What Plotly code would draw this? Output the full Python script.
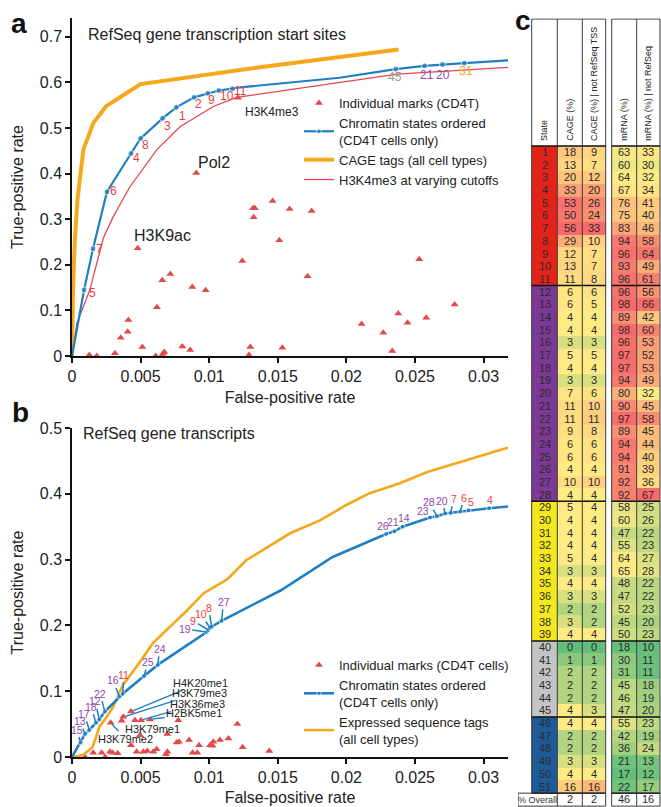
import numpy as np
import plotly.graph_objects as go

W, H = 661, 807

# ---------------- Panel a data ----------------
a_cage_fpr = [0, 0.00007, 0.0002, 0.0004, 0.00083, 0.00156, 0.0025, 0.005, 0.0137, 0.0238]
a_cage_tpr = [0, 0.144, 0.25, 0.343, 0.453, 0.511, 0.548, 0.596, 0.633, 0.672]

a_h3k4_fpr = [0, 0.00036, 0.0013, 0.0023, 0.003, 0.0042, 0.0062, 0.0079, 0.0103, 0.012, 0.0237, 0.0318]
a_h3k4_tpr = [0, 0.072, 0.145, 0.26, 0.305, 0.37, 0.453, 0.503, 0.547, 0.567, 0.618, 0.633]

a_state_lab = ["", "5", "7", "6", "4", "8", "3", "1", "2", "9", "10", "11", "", "", "45", "21", "20", "31", ""]
a_state_fpr = [0, 0.00088, 0.00153, 0.00255, 0.0043, 0.0050, 0.0066, 0.0076, 0.0089, 0.0099, 0.0107, 0.0117,
               0.01225, 0.0195, 0.0236, 0.0257, 0.0270, 0.0286, 0.0318]
a_state_tpr = [0, 0.145, 0.235, 0.36, 0.444, 0.477, 0.521, 0.545, 0.567, 0.576, 0.582, 0.586,
               0.589, 0.610, 0.629, 0.636, 0.639, 0.642, 0.648]

a_mark_name = ["Pol2", "H3K9ac", "H3K4me3"] + [""] * 38
a_mark_fpr = [0.00906, 0.00479, 0.0121, 0.01462, 0.0132, 0.01333, 0.01324, 0.01586, 0.01747, 0.01511, 0.01241,
              0.02531, 0.01717, 0.00717, 0.00658, 0.00877, 0.00974, 0.00619, 0.02789, 0.00411, 0.00406,
              0.00355, 0.02378, 0.02446, 0.02582, 0.02111, 0.02269, 0.02334, 0.00513, 0.00804, 0.00862,
              0.0130, 0.01533, 0.00313, 0.00673, 0.00663, 0.00126, 0.0018, 0.0061, 0.00653, 0.0129]
a_mark_tpr = [0.401, 0.236, 0.566, 0.340, 0.324, 0.324, 0.304, 0.322, 0.318, 0.254, 0.208,
              0.212, 0.175, 0.180, 0.166, 0.151, 0.144, 0.107, 0.113, 0.079, 0.053,
              0.040, 0.093, 0.073, 0.084, 0.070, 0.051, 0.011, 0.020, 0.021, 0.013,
              0.020, 0.018, 0.006, 0.009, 0.005, 0.002, 0.0, 0.0, 0.0, 0.002]

# ---------------- Panel b data ----------------
b_est_fpr = [0, 0.0008, 0.0015, 0.002, 0.0025, 0.003, 0.0037, 0.0047, 0.0059, 0.0069, 0.0084, 0.0096, 0.0113,
             0.0127, 0.0142, 0.0159, 0.0181, 0.0200, 0.0217, 0.0239, 0.0259, 0.0288, 0.0312, 0.0319]
b_est_tpr = [0, 0.003, 0.015, 0.046, 0.06, 0.076, 0.109, 0.137, 0.173, 0.193, 0.223, 0.249, 0.270,
             0.299, 0.318, 0.340, 0.360, 0.383, 0.401, 0.416, 0.433, 0.451, 0.466, 0.471]

b_state_lab = ["", "15", "13", "17", "18", "12", "22", "16", "11", "25", "24", "19", "9", "10", "8", "27", "", "",
               "26", "21", "14", "23", "28", "20", "7", "6", "5", "4", ""]
b_state_fpr = [0, 0.00063, 0.00095, 0.00126, 0.00175, 0.00199, 0.0024, 0.00345, 0.0037, 0.00525, 0.00625,
               0.00982, 0.00994, 0.01006, 0.01018, 0.0109, 0.0152, 0.019, 0.0229, 0.0235, 0.0241, 0.0261,
               0.0266, 0.0272, 0.0276, 0.0283, 0.0289, 0.0304, 0.0319]
b_state_tpr = [0, 0.022, 0.035, 0.041, 0.052, 0.057, 0.069, 0.092, 0.096, 0.123, 0.140,
               0.190, 0.193, 0.196, 0.198, 0.207, 0.253, 0.304, 0.339, 0.343, 0.350, 0.364,
               0.366, 0.370, 0.371, 0.373, 0.375, 0.378, 0.381]

b_mark_name = ["H4K20me1", "H3K79me3", "H3K36me3", "H2BK5me1", "H3K79me1", "H3K79me2"] + [""] * 33
b_mark_fpr = [0.0043, 0.00374, 0.00503, 0.00569, 0.00362, 0.00282,
              0.00459, 0.00775, 0.01205, 0.0043, 0.00496, 0.00695, 0.00763, 0.0078, 0.00853, 0.00926,
              0.01006, 0.0103, 0.01079, 0.0114, 0.01244, 0.01438, 0.00155, 0.00216, 0.00277, 0.00296,
              0.00333, 0.00471, 0.0052, 0.00549, 0.00593, 0.00617, 0.00685, 0.00695, 0.00879, 0.00913,
              0.01025, 0.00095, 0.00241]
b_mark_tpr = [0.069, 0.061, 0.056, 0.057, 0.055, 0.052,
              0.056, 0.056, 0.050, 0.018, 0.033, 0.035, 0.022, 0.023, 0.026, 0.018,
              0.018, 0.023, 0.026, 0.028, 0.015, 0.009, 0.0066, 0.0066, 0.008, 0.0066,
              0.0056, 0.008, 0.008, 0.009, 0.008, 0.0117, 0.0041, 0.008, 0.0066, 0.0066,
              0.0172, 0.0, 0.0]

x_tickvals = [0, 0.005, 0.01, 0.015, 0.02, 0.025, 0.03]
x_ticktext = ["0", "0.005", "0.01", "0.015", "0.02", "0.025", "0.03"]
ya_tickvals = [0, 0.1, 0.2, 0.3, 0.4, 0.5, 0.6, 0.7]
ya_ticktext = ["0", "0.1", "0.2", "0.3", "0.4", "0.5", "0.6", "0.7"]
yb_tickvals = [0, 0.1, 0.2, 0.3, 0.4, 0.5]
yb_ticktext = ["0", "0.1", "0.2", "0.3", "0.4", "0.5"]

# ---------------- Table data ----------------
states = list(range(1, 52))
state_group = [0] * 11 + [1] * 17 + [2] * 11 + [3] * 6 + [4] * 6
cage = [18, 13, 20, 33, 53, 50, 56, 29, 12, 13, 11,
        6, 6, 4, 4, 3, 5, 4, 3, 7, 11, 11, 9, 6, 6, 4, 10, 4,
        5, 4, 4, 4, 5, 3, 4, 3, 2, 3, 4,
        0, 1, 2, 2, 2, 4,
        4, 2, 2, 3, 4, 16]
cage_not_tss = [9, 7, 12, 20, 26, 24, 33, 10, 7, 7, 8,
                6, 5, 4, 4, 3, 5, 4, 3, 6, 10, 11, 8, 6, 6, 4, 10, 4,
                4, 4, 4, 4, 4, 3, 4, 3, 2, 2, 4,
                0, 1, 2, 2, 2, 3,
                4, 2, 2, 3, 4, 16]
mrna = [63, 60, 64, 67, 76, 75, 83, 94, 96, 93, 96,
        96, 98, 89, 98, 96, 97, 97, 94, 80, 90, 97, 89, 94, 94, 91, 92, 92,
        58, 60, 47, 55, 64, 65, 48, 47, 52, 45, 50,
        18, 30, 31, 45, 46, 47,
        55, 42, 36, 21, 17, 22]
mrna_not_refseq = [33, 30, 32, 34, 41, 40, 46, 58, 64, 49, 61,
                   56, 66, 42, 60, 53, 52, 53, 49, 32, 45, 58, 45, 44, 40, 39, 36, 67,
                   25, 26, 22, 23, 27, 28, 22, 22, 23, 20, 23,
                   10, 11, 11, 18, 19, 20,
                   23, 19, 24, 13, 12, 17]
overall = [2, 2, 46, 16]
col_headers = ["State", "CAGE (%)", "CAGE (%) | not RefSeq TSS", "mRNA (%)", "mRNA (%) | not RefSeq"]

# ---------------- Styles ----------------
BLUE = "#1f7fc1"
ORANGE = "#f5a81c"
RED = "#e3474c"
TRI = "#e24a4a"
FONT = "Liberation Sans, Arial, sans-serif"
GROUP_COLORS = ["#e2231a", "#7d3996", "#f2e81b", "#c4c4c4", "#1f5b98"]
LABEL_COLORS = ["#ee3b3b", "#8e4aa8", "#f5a623", "#9a9a9a", "#1f5b98"]


def state_label_color(lab):
    n = int(lab)
    return LABEL_COLORS[state_group[n - 1]]


fig = go.Figure()

# ----- Panel a traces -----
fig.add_trace(go.Scatter(x=a_mark_fpr, y=a_mark_tpr, mode="markers", name="Individual marks (CD4T)",
                         marker=dict(symbol="triangle-up", size=7, color=TRI), cliponaxis=False,
                         xaxis="x", yaxis="y", legend="legend", legendrank=1, hoverinfo="skip"))
fig.add_trace(go.Scatter(x=a_h3k4_fpr, y=a_h3k4_tpr, mode="lines", name="H3K4me3 at varying cutoffs",
                         line=dict(color=RED, width=1.3), xaxis="x", yaxis="y", legend="legend",
                         legendrank=4, hoverinfo="skip"))
fig.add_trace(go.Scatter(x=a_cage_fpr, y=a_cage_tpr, mode="lines", name="CAGE tags (all cell types)",
                         line=dict(color=ORANGE, width=4), xaxis="x", yaxis="y", legend="legend",
                         legendrank=3, hoverinfo="skip"))
fig.add_trace(go.Scatter(x=a_state_fpr, y=a_state_tpr, mode="lines+markers",
                         name="Chromatin states ordered<br>(CD4T cells only)",
                         line=dict(color=BLUE, width=2.2),
                         marker=dict(color=BLUE, size=[6 if s else 0 for s in a_state_lab]),
                         xaxis="x", yaxis="y", legend="legend", legendrank=2, hoverinfo="skip"))

# ----- Panel b traces -----
fig.add_trace(go.Scatter(x=b_mark_fpr, y=b_mark_tpr, mode="markers", name="Individual marks (CD4T cells)",
                         marker=dict(symbol="triangle-up", size=7, color=TRI), cliponaxis=False,
                         xaxis="x2", yaxis="y2", legend="legend2", legendrank=1, hoverinfo="skip"))
fig.add_trace(go.Scatter(x=b_est_fpr, y=b_est_tpr, mode="lines", name="Expressed sequence tags<br>(all cell types)",
                         line=dict(color=ORANGE, width=2.6), xaxis="x2", yaxis="y2", legend="legend2",
                         legendrank=3, hoverinfo="skip"))
fig.add_trace(go.Scatter(x=b_state_fpr, y=b_state_tpr, mode="lines+markers",
                         name="Chromatin states ordered<br>(CD4T cells only)",
                         line=dict(color=BLUE, width=2.6),
                         marker=dict(color=BLUE, size=[5 if s else 0 for s in b_state_lab]),
                         xaxis="x2", yaxis="y2", legend="legend2", legendrank=2, hoverinfo="skip"))

annotations = []

# state labels panel a (offsets in px: right, down)
a_lab_dx = {"5": 8, "7": 7, "6": 7, "4": 6, "8": 5, "3": 5, "1": 6, "2": 4, "9": 4, "10": 8, "11": 8,
            "45": -1, "21": 2, "20": 1, "31": 2}
a_lab_dy = {"5": 3, "7": 0, "6": -1, "4": 5, "8": 7, "3": 8, "1": 9, "2": 7, "9": 7, "10": 5, "11": 2,
            "45": 8, "21": 9, "20": 10, "31": 8}
for lab, xv, yv in zip(a_state_lab, a_state_fpr, a_state_tpr):
    if not lab:
        continue
    annotations.append(dict(x=xv, y=yv, xref="x", yref="y", text=lab, showarrow=False,
                            xshift=a_lab_dx[lab], yshift=-a_lab_dy[lab],
                            font=dict(size=12, color=state_label_color(lab))))

# mark labels panel a
for name, xv, yv in zip(a_mark_name, a_mark_fpr, a_mark_tpr):
    if name == "Pol2":
        annotations.append(dict(x=xv, y=yv, xref="x", yref="y", text=name, showarrow=False,
                                xanchor="left", yanchor="bottom", xshift=0, yshift=0,
                                font=dict(size=16, color="#222")))
    elif name == "H3K9ac":
        annotations.append(dict(x=xv, y=yv, xref="x", yref="y", text=name, showarrow=False,
                                xanchor="left", yanchor="bottom", xshift=-6, yshift=2,
                                font=dict(size=16, color="#222")))
    elif name == "H3K4me3":
        annotations.append(dict(x=xv, y=yv, xref="x", yref="y", text=name, showarrow=True,
                                ax=34, ay=14, arrowhead=0, arrowwidth=0.8, arrowcolor=BLUE,
                                standoff=2, font=dict(size=12, color="#222")))

# state labels panel b, with leader lines
b_lab_ax = {"15": -4, "13": -5, "17": -5, "18": -5, "12": -4, "22": -5, "16": -6, "11": 1, "25": 4, "24": 2,
            "19": -22, "9": -15, "10": -9, "8": -3, "27": 2,
            "26": -3, "21": -1, "14": 1, "23": -7, "28": -8, "20": -3, "7": 3, "6": 4, "5": 3, "4": 1}
b_lab_ay = {"15": -13, "13": -13, "17": -16, "18": -16, "12": -18, "22": -18, "16": -16, "11": -19, "25": -14,
            "24": -16, "19": -3, "9": -9, "10": -14, "8": -19, "27": -19,
            "26": -8, "21": -9, "14": -9, "23": -6, "28": -14, "20": -13, "7": -14, "6": -14, "5": -8, "4": -8}
for lab, xv, yv in zip(b_state_lab, b_state_fpr, b_state_tpr):
    if not lab:
        continue
    annotations.append(dict(x=xv, y=yv, xref="x2", yref="y2", text=lab, showarrow=True,
                            ax=b_lab_ax[lab], ay=b_lab_ay[lab], arrowhead=0, arrowwidth=1.5,
                            arrowcolor=BLUE, standoff=0, startstandoff=0,
                            font=dict(size=10.5, color=state_label_color(lab))))

b_mark_ax = {"H4K20me1": 70, "H3K79me3": 76, "H3K36me3": 56, "H2BK5me1": 44, "H3K79me1": 31, "H3K79me2": 15}
b_mark_ay = {"H4K20me1": -29, "H3K79me3": -24, "H3K36me3": -16, "H2BK5me1": -6, "H3K79me1": 8, "H3K79me2": 16}
for name, xv, yv in zip(b_mark_name, b_mark_fpr, b_mark_tpr):
    if not name:
        continue
    annotations.append(dict(x=xv, y=yv, xref="x2", yref="y2", text=name, showarrow=True,
                            ax=b_mark_ax[name], ay=b_mark_ay[name], arrowhead=0, arrowwidth=1.3,
                            arrowcolor=BLUE, standoff=2, font=dict(size=11, color="#222")))

# panel titles and letters
annotations += [
    dict(x=86 / W, y=1 - 35 / H, xref="paper", yref="paper", text="RefSeq gene transcription start sites",
         showarrow=False, xanchor="left", yanchor="middle", font=dict(size=16, color="#222")),
    dict(x=81 / W, y=1 - 433 / H, xref="paper", yref="paper", text="RefSeq gene transcripts",
         showarrow=False, xanchor="left", yanchor="middle", font=dict(size=16, color="#222")),
    dict(x=19 / W, y=1 - 23 / H, xref="paper", yref="paper", text="<b>a</b>", showarrow=False,
         xanchor="center", yanchor="middle", font=dict(size=28, color="#111")),
    dict(x=20 / W, y=1 - 412 / H, xref="paper", yref="paper", text="<b>b</b>", showarrow=False,
         xanchor="center", yanchor="middle", font=dict(size=28, color="#111")),
    dict(x=523 / W, y=1 - 20 / H, xref="paper", yref="paper", text="<b>c</b>", showarrow=False,
         xanchor="center", yanchor="middle", font=dict(size=28, color="#111")),
]

# ---------------- Table (panel c) ----------------
col_left = [13.7, 39.3, 64.3, 93.7, 118.7]
col_right = [39.3, 64.3, 87.7, 118.7, 142.0]
LOW, MID, HIGH = "#63be7b", "#ffeb84", "#f8696b"


def excel_scale(vals):
    vmin, vmax = min(vals), max(vals)
    med = float(np.percentile(vals, 50))
    m = (med - vmin) / (vmax - vmin)
    return [[0, LOW], [m, MID], [1, HIGH]], vmin, vmax


z_rows = [[g] for g in state_group]
gscale = []
for i, c in enumerate(GROUP_COLORS):
    gscale.append([i / 5, c])
    gscale.append([(i + 1) / 5, c])
fig.add_trace(go.Heatmap(z=z_rows, text=[[str(s)] for s in states], texttemplate="%{text}",
                         textfont=dict(size=11, color="#2b2b2b", family=FONT),
                         x0=(col_left[0] + col_right[0]) / 2, dx=col_right[0] - col_left[0], y0=1, dy=1,
                         colorscale=gscale, zmin=-0.5, zmax=4.5, showscale=False, hoverinfo="skip",
                         xaxis="x3", yaxis="y3"))
for ci, vals in zip([1, 2, 3, 4], [cage, cage_not_tss, mrna, mrna_not_refseq]):
    cs, vmin, vmax = excel_scale(vals)
    fig.add_trace(go.Heatmap(z=[[v] for v in vals], texttemplate="%{z}",
                             textfont=dict(size=11, color="#2b2b2b", family=FONT),
                             x0=(col_left[ci] + col_right[ci]) / 2, dx=col_right[ci] - col_left[ci],
                             y0=1, dy=1, colorscale=cs, zmin=vmin, zmax=vmax, showscale=False,
                             hoverinfo="skip", xaxis="x3", yaxis="y3"))
# overall row
OV_TOP, OV_BOT = 51.5, 52.52
for ci, v in zip([1, 2, 3, 4], overall):
    fig.add_trace(go.Heatmap(z=[[v]], texttemplate="%{z}", textfont=dict(size=11, color="#2b2b2b", family=FONT),
                             x0=(col_left[ci] + col_right[ci]) / 2, dx=col_right[ci] - col_left[ci],
                             y0=(OV_TOP + OV_BOT) / 2, dy=OV_BOT - OV_TOP,
                             colorscale=[[0, "white"], [1, "white"]], showscale=False,
                             hoverinfo="skip", xaxis="x3", yaxis="y3"))
annotations.append(dict(x=19.6, y=(OV_TOP + OV_BOT) / 2, xref="x3", yref="y3", text="% Overall",
                        showarrow=False, font=dict(size=9, color="#333")))

shapes = []


def hline(x0, x1, y, w=1.0, c="#333"):
    shapes.append(dict(type="line", xref="x3", yref="y3", x0=x0, x1=x1, y0=y, y1=y, line=dict(color=c, width=w)))


def vline(x, y0, y1, w=1.0, c="#333"):
    shapes.append(dict(type="line", xref="x3", yref="y3", x0=x, x1=x, y0=y0, y1=y1, line=dict(color=c, width=w)))


HEAD_TOP = -9.5
for g in [[0, 1, 2], [3, 4]]:
    xl, xr = col_left[g[0]], col_right[g[-1]]
    for xv in [col_left[i] for i in g] + [xr]:
        vline(xv, HEAD_TOP, OV_TOP, 1.0, "#3a3a3a")
    hline(xl, xr, HEAD_TOP, 1.0, "#3a3a3a")
    for yb in [0.5, 11.5, 28.5, 39.5, 45.5, 51.5]:
        hline(xl, xr, yb, 1.5, "#111")
    edges = [0.0, col_right[0], col_right[1], col_right[2]] if g[0] == 0 else [col_left[3], col_right[3], col_right[4]]
    for xv in edges:
        vline(xv, OV_TOP, OV_BOT, 1.0, "#3a3a3a")
    hline(edges[0], edges[-1], OV_BOT, 1.0, "#3a3a3a")
    hline(edges[0], edges[-1], OV_TOP, 1.0, "#3a3a3a")

for ci, txt in enumerate(col_headers):
    annotations.append(dict(x=(col_left[ci] + col_right[ci]) / 2, y=0.5, xref="x3", yref="y3", text=txt,
                            showarrow=False, textangle=-90, yanchor="bottom", xanchor="center", yshift=3,
                            font=dict(size=9, color="#222")))

axis_common = dict(showline=True, linecolor="#111", linewidth=1.5, ticks="outside", ticklen=5, tickwidth=1.5,
                   tickcolor="#111", showgrid=False, zeroline=False, tickfont=dict(size=16, color="#222"),
                   fixedrange=True, automargin=False)

fig.update_layout(
    width=W, height=H, margin=dict(l=0, r=0, t=0, b=0, autoexpand=False), paper_bgcolor="white",
    plot_bgcolor="white",
    font=dict(family=FONT, color="#222"),
    xaxis=dict(domain=[72 / W, 508 / W], range=[0, 0.03178], anchor="y", tickvals=x_tickvals,
               ticktext=x_ticktext, title=dict(text="False-positive rate", font=dict(size=16), standoff=8),
               **axis_common),
    yaxis=dict(domain=[1 - 356 / H, 1 - 18 / H], range=[0, 0.741], anchor="x", tickvals=ya_tickvals,
               ticktext=ya_ticktext, title=dict(text="True-positive rate", font=dict(size=16), standoff=12),
               **axis_common),
    xaxis2=dict(domain=[72 / W, 508 / W], range=[0, 0.03178], anchor="y2", tickvals=x_tickvals,
                ticktext=x_ticktext, title=dict(text="False-positive rate", font=dict(size=16), standoff=7),
                **axis_common),
    yaxis2=dict(domain=[1 - 757 / H, 1 - 428 / H], range=[0, 0.5], anchor="x2", tickvals=yb_tickvals,
                ticktext=yb_ticktext, title=dict(text="True-positive rate", font=dict(size=16), standoff=12),
                **axis_common),
    xaxis3=dict(domain=[518 / W, 1.0], range=[0, 143], visible=False, fixedrange=True),
    yaxis3=dict(domain=[0, 1 - 18.3 / H], range=[52.59, -9.56], visible=False, fixedrange=True),
    legend=dict(x=299 / W, y=1 - 88 / H, xanchor="left", yanchor="top", font=dict(size=13, color="#222"),
                bgcolor="rgba(0,0,0,0)", tracegroupgap=0),
    legend2=dict(x=299 / W, y=1 - 650 / H, xanchor="left", yanchor="top", font=dict(size=13, color="#222"),
                 bgcolor="rgba(0,0,0,0)", tracegroupgap=0),
    annotations=annotations, shapes=shapes,
)

fig.write_html("out.html", config={"displayModeBar": False},
               post_script="document.body.style.margin='0';document.body.style.overflow='hidden';")
